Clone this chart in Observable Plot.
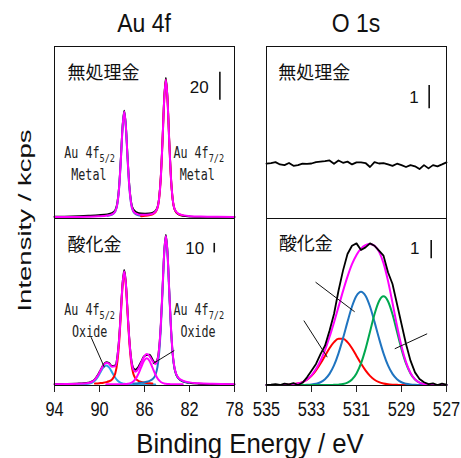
<!DOCTYPE html>
<html><head><meta charset="utf-8">
<script src="https://cdn.jsdelivr.net/npm/d3@7"></script>
<script src="https://cdn.jsdelivr.net/npm/@observablehq/plot@0.6"></script>
<style>
body{margin:0;background:#fff;}
#wrap{position:relative;width:461px;height:458px;overflow:hidden;font-family:"Liberation Sans",Arial,sans-serif;background:#fff;}
</style></head><body><div id="wrap"></div>
<script>
// ---------------- DATA ----------------
// Au 4f, untreated (kcps)
const au1E = [94, 92.5, 91, 90.1, 89.3, 88.9, 88.6, 88.4, 88.25, 88.1, 87.95, 87.8, 87.65, 87.5, 87.35, 87.2, 87.0, 86.7, 86.3, 85.95, 85.6, 85.2, 84.9, 84.7, 84.55, 84.4, 84.25, 84.1, 83.95, 83.8, 83.65, 83.5, 83.3, 83.0, 82.6, 81.9, 81, 79.5, 78];
const au1Raw = [0.3, 0.5, 1.0, 1.4, 2.0, 2.9, 5.0, 11.0, 22.5, 42.5, 65.0, 76.0, 64.5, 42.5, 23.0, 11.5, 5.6, 3.5, 2.6, 2.5, 2.6, 3.4, 6.0, 14.0, 29.0, 55.0, 85.0, 99.5, 84.0, 54.5, 28.5, 13.0, 5.0, 2.0, 0.9, 0.4, 0.2, 0.1, 0.1];
const au1Fit = [0.09, 0.14, 0.28, 0.53, 1.1, 1.9, 4.1, 10.2, 21.8, 41.5, 64.0, 75.2, 64.0, 41.6, 21.9, 10.3, 4.4, 2.3, 1.6, 1.6, 1.8, 2.7, 5.5, 13.4, 28.4, 54.1, 83.6, 98.2, 83.6, 54.0, 28.3, 13.2, 5.3, 2.45, 1.4, 0.65, 0.38, 0.17, 0.1];
const au1Metal52 = [null, null, null, null, 1.0, 1.8, 4.0, 10.0, 21.6, 41.3, 63.8, 75, 63.8, 41.3, 21.6, 10.0, 4.0, 1.8, 1.0, null, null, null, null, null, null, null, null, null, null, null, null, null, null, null, null, null, null, null, null];
const au1Metal72 = [null, null, null, null, null, null, null, null, null, null, null, null, null, null, null, null, null, null, 0.59, 0.88, 1.32, 2.35, 5.2, 13.1, 28.2, 53.9, 83.4, 98, 83.4, 53.9, 28.2, 13.1, 5.2, 2.35, 1.32, null, null, null, null];

// Au 4f, oxidized (kcps)
const au2E = [94, 93, 92, 91.4, 91.0, 90.65, 90.4, 90.15, 89.9, 89.65, 89.4, 89.15, 88.9, 88.6, 88.4, 88.25, 88.1, 87.95, 87.8, 87.65, 87.5, 87.35, 87.2, 87.0, 86.8, 86.55, 86.3, 86.05, 85.8, 85.55, 85.3, 85.05, 84.85, 84.7, 84.55, 84.4, 84.25, 84.1, 83.95, 83.8, 83.65, 83.5, 83.3, 83.0, 82.6, 82.0, 81.2, 80, 78];
const au2Raw = [0.5, 0.7, 1.0, 1.3, 1.9, 3.3, 5.8, 9.9, 15.4, 20.8, 23.4, 22.5, 19.6, 20.2, 31.0, 50.0, 78.0, 107.0, 120.5, 106.5, 76.5, 48.5, 29.0, 17.5, 15.5, 18.5, 24.0, 29.5, 31.0, 31.5, 26.5, 23.0, 26.5, 38.5, 63.0, 100.5, 139.5, 157.5, 138.5, 98.5, 60.0, 33.0, 15.0, 6.5, 3.2, 1.6, 0.8, 0.4, 0.2];
const au2Fit = [0.34, 0.46, 0.74, 1.02, 1.56, 2.98, 5.42, 9.45, 14.97, 20.2, 22.85, 21.82, 18.75, 19.18, 29.87, 48.65, 76.44, 105.59, 119.28, 105.36, 75.74, 47.42, 27.79, 15.92, 13.34, 16.58, 22.74, 29.1, 32.09, 29.95, 24.81, 21.51, 25.64, 38.06, 63.1, 99.78, 138.39, 156.26, 137.79, 98.4, 60.5, 33.7, 15.82, 7.23, 4.07, 2.25, 1.27, 0.69, 0.34];
const au2Metal52 = [null, null, null, null, null, null, 0.96, 1.16, 1.46, 1.86, 2.47, 3.4, 5.05, 11.5, 25.0, 45.2, 73.9, 103.6, 117.5, 103.6, 73.9, 45.2, 25.0, 11.5, 6.3, 3.9, 2.76, 2.06, 1.6, 1.27, 1.03, null, null, null, null, null, null, null, null, null, null, null, null, null, null, null, null, null, null];
const au2Metal72 = [null, null, null, null, null, null, null, null, null, null, null, null, null, null, null, null, null, null, null, null, null, null, null, 1.02, 1.16, 1.43, 1.75, 2.22, 2.88, 3.88, 5.58, 9.46, 18.2, 33.0, 59.7, 97.5, 136.7, 155, 136.7, 97.5, 59.7, 33.0, 15.2, 6.7, 3.64, 1.92, null, null, null];
const au2Oxide52 = [null, null, 0.18, 0.32, 0.7, 1.94, 4.2, 8.0, 13.2, 18.0, 20, 18.0, 13.2, 7.1, 4.2, 2.7, 1.7, 1.04, 0.7, 0.5, 0.38, 0.3, 0.24, 0.2, 0.18, 0.15, 0.13, 0.12, 0.11, 0.1, 0.1, 0.09, null, null, null, null, null, null, null, null, null, null, null, null, null, null, null, null, null];
const au2Oxide72 = [null, null, null, null, null, null, null, null, null, null, 0.14, 0.15, 0.18, 0.21, 0.25, 0.26, 0.3, 0.36, 0.44, 0.58, 0.72, 1.1, 1.65, 3.2, 5.7, 11.1, 18.1, 24.7, 27.5, 24.7, 18.1, 11.1, 6.6, 4.3, 2.7, 1.65, 1.1, 0.72, 0.58, 0.44, 0.36, 0.3, 0.25, 0.21, 0.17, null, null, null, null];

// O 1s (kcps)
const o1E = [535, 534.8, 534.6, 534.4, 534.2, 534, 533.8, 533.6, 533.4, 533.2, 533, 532.8, 532.6, 532.4, 532.2, 532, 531.8, 531.6, 531.4, 531.2, 531, 530.8, 530.6, 530.4, 530.2, 530, 529.8, 529.6, 529.4, 529.2, 529, 528.8, 528.6, 528.4, 528.2, 528, 527.8, 527.6, 527.4, 527.2, 527];
const o1Untreated = [2.35, 2.38, 2.42, 2.32, 2.29, 2.38, 2.26, 2.29, 2.35, 2.34, 2.36, 2.42, 2.44, 2.46, 2.49, 2.35, 2.49, 2.39, 2.44, 2.32, 2.41, 2.41, 2.38, 2.21, 2.42, 2.36, 2.38, 2.32, 2.26, 2.35, 2.29, 2.21, 2.29, 2.24, 2.12, 2.29, 2.15, 2.29, 2.24, 2.32, 2.41];
const o1Raw = [0.0, 0.02, 0.05, 0.0, 0.08, 0.03, 0.1, 0.0, 0.12, 0.42, 0.78, 1.15, 1.69, 2.15, 2.97, 3.88, 5.15, 6.25, 7.16, 7.61, 7.74, 7.38, 7.52, 7.74, 7.61, 7.34, 7.07, 6.16, 5.52, 4.43, 3.33, 2.24, 1.33, 0.69, 0.33, 0.15, 0.05, 0.09, 0.0, 0.08, 0.02];
const o1Fit = [0, 0, 0, 0, 0.01, 0.02, 0.04, 0.08, 0.16, 0.30, 0.53, 0.87, 1.33, 1.91, 2.62, 3.42, 4.27, 5.13, 5.92, 6.60, 7.11, 7.45, 7.64, 7.71, 7.61, 7.29, 6.66, 5.69, 4.49, 3.24, 2.12, 1.25, 0.66, 0.31, 0.13, 0.05, 0.02, 0.01, 0, 0, 0];
const o1Red = [0, 0, 0, 0, 0.01, 0.02, 0.04, 0.08, 0.16, 0.29, 0.50, 0.80, 1.17, 1.59, 2.01, 2.34, 2.53, 2.53, 2.34, 2.01, 1.59, 1.17, 0.80, 0.50, 0.29, 0.16, 0.08, 0.04, 0.02, 0.01, 0, 0, 0, 0, 0, 0, 0, 0, 0, 0, 0];
const o1Blue = [0, 0, 0, 0, 0, 0, 0, 0, 0, 0.01, 0.03, 0.07, 0.15, 0.32, 0.61, 1.07, 1.73, 2.55, 3.45, 4.29, 4.88, 5.10, 4.88, 4.29, 3.45, 2.55, 1.73, 1.07, 0.61, 0.32, 0.15, 0.07, 0.03, 0.01, 0, 0, 0, 0, 0, 0, 0];
const o1Green = [0, 0, 0, 0, 0, 0, 0, 0, 0, 0, 0, 0, 0, 0, 0, 0.01, 0.02, 0.05, 0.13, 0.30, 0.63, 1.18, 1.96, 2.91, 3.87, 4.58, 4.85, 4.58, 3.87, 2.91, 1.96, 1.18, 0.63, 0.30, 0.13, 0.05, 0.02, 0.01, 0, 0, 0];

// tick labels
const auTicks = [94, 90, 86, 82, 78];
const oTicks = [535, 533, 531, 529, 527];

// ---------------- STYLE / LAYOUT ----------------
const C = {magenta: "#ff00ff", red: "#ff0000", blue: "#1f74c0", lblue: "#2aa4e4", green: "#00a84f", black: "#000"};
const CJK = "'Noto Sans CJK JP', sans-serif";
const SANS = "'Liberation Sans', Arial, sans-serif";
const MONO = "'DejaVu Sans Mono', monospace";
const TOP = 46, MID = 218, BOT = 385;
const LEFTP = [54, 234], RIGHTP = [266, 446];

const wrap = d3.select("#wrap");
const rows = (xs, ys) => xs.map((e, i) => ({e, v: ys[i]}));

function makePanel(o) {
  const padX = o.axis ? 22 : 2, padTop = 2, padBottom = o.axis ? 48 : 2;
  const width = o.cols[1] - o.cols[0] + 2 * padX;
  const height = o.rows[1] - o.rows[0] + padTop + padBottom;
  const marks = [];
  for (const s of o.series) {
    marks.push(Plot.line(rows(o.xs, s.values), {x: "e", y: "v", stroke: s.color, strokeWidth: s.width ?? 1.8, curve: s.curve ?? "monotone-x"}));
  }
  marks.push(Plot.frame({stroke: "#111", strokeWidth: 1}));
  marks.push(Plot.ruleX([o.bar], {x: "x", y1: "y1", y2: "y2", stroke: "#111", strokeWidth: 1.6}));
  marks.push(Plot.text([o.name], {x: "x", y: "y", text: "text", textAnchor: "start", fontFamily: CJK, fontSize: 18, fill: "#111"}));
  marks.push(Plot.text([o.scaleLabel], {x: "x", y: "y", text: "text", textAnchor: "end", fontFamily: SANS, fontSize: 17, fill: "#111"}));
  if (o.links) marks.push(Plot.link(o.links, {x1: "x1", y1: "y1", x2: "x2", y2: "y2", stroke: "#111", strokeWidth: 1}));
  const svg = Plot.plot({
    width, height,
    marginLeft: padX, marginRight: padX, marginTop: padTop, marginBottom: padBottom,
    style: {background: "transparent", overflow: "visible", fontFamily: SANS, fontSize: "21px", color: "#111"},
    x: {domain: o.xDomain, ticks: o.ticks ?? [], tickSize: 7, tickPadding: 9, label: null, axis: o.axis ? "bottom" : null},
    y: {domain: o.yDomain, axis: null},
    marks
  });
  const s = d3.select(svg);
  s.style("position", "absolute").style("left", (o.cols[0] - padX) + "px").style("top", (o.rows[0] - padTop) + "px");
  // condensed tick labels
  s.selectAll("g[aria-label^='x-axis'] text").each(function() {
    const t = d3.select(this);
    t.attr("font-size", 21).style("font-size", "21px").attr("fill", "#111");
    t.attr("transform", ((t.attr("transform") || "") + " scale(0.78,1)").trim());
  });
  s.selectAll("g[aria-label^='x-axis'] line, g[aria-label^='x-axis'] path").attr("stroke", "#222");
  // peak labels with subscripts
  if (o.peakLabels) {
    const sx = svg.scale("x"), sy = svg.scale("y");
    for (const p of o.peakLabels) {
      const t = s.append("text")
        .attr("transform", `translate(${sx.apply(p.x)},${sy.apply(p.y)}) scale(0.78,1)`)
        .attr("dy", "0.36em").attr("text-anchor", "middle")
        .attr("font-family", MONO).attr("font-size", 15).attr("fill", "#222");
      t.append("tspan").text(p.main);
      if (p.sub) t.append("tspan").attr("font-size", 11).attr("dy", 4).text(p.sub);
    }
  }
  wrap.node().appendChild(svg);
  return svg;
}

// Top-left: Au 4f untreated
makePanel({
  cols: LEFTP, rows: [TOP, MID], xs: au1E, xDomain: [94, 78], yDomain: [-1, 121.9],
  series: [
    {values: au1Raw, color: C.black, width: 1.8},
    {values: au1Metal52, color: C.blue, width: 2},
    {values: au1Metal72, color: C.red, width: 2},
    {values: au1Fit, color: C.magenta, width: 2}
  ],
  name: {x: 92.85, y: 102.6, text: "無処理金"},
  scaleLabel: {x: 80.3, y: 92.9, text: "20"},
  bar: {x: 79.3, y1: 83.5, y2: 103.5},
  peakLabels: [
    {x: 90.83, y: 45.5, main: "Au 4f", sub: "5/2"}, {x: 90.9, y: 29.8, main: "Metal"},
    {x: 81.13, y: 45.5, main: "Au 4f", sub: "7/2"}, {x: 81.27, y: 29.8, main: "Metal"}
  ]
});

// Bottom-left: Au 4f oxidized
makePanel({
  cols: LEFTP, rows: [MID, BOT], xs: au2E, xDomain: [94, 78], yDomain: [-1.05, 174.7], axis: true, ticks: auTicks,
  series: [
    {values: au2Raw, color: C.black, width: 1.8},
    {values: au2Oxide52, color: C.lblue, width: 2},
    {values: au2Metal52, color: C.red, width: 2},
    {values: au2Metal72, color: C.blue, width: 2},
    {values: au2Oxide72, color: C.magenta, width: 2},
    {values: au2Fit, color: C.magenta, width: 2}
  ],
  name: {x: 92.85, y: 147, text: "酸化金"},
  scaleLabel: {x: 80.7, y: 142.8, text: "10"},
  bar: {x: 79.8, y1: 138.5, y2: 148.5},
  links: [{x1: 90.75, y1: 49.8, x2: 89.57, y2: 18.2}, {x1: 83.35, y1: 35.8, x2: 85.27, y2: 21.8}],
  peakLabels: [
    {x: 90.83, y: 77.9, main: "Au 4f", sub: "5/2"}, {x: 90.83, y: 55, main: "Oxide"},
    {x: 81.13, y: 77.9, main: "Au 4f", sub: "7/2"}, {x: 81.2, y: 55, main: "Oxide"}
  ]
});

// Top-right: O 1s untreated
makePanel({
  cols: RIGHTP, rows: [TOP, MID], xs: o1E, xDomain: [535, 527], yDomain: [0, 7.38],
  series: [{values: o1Untreated, color: C.black, width: 1.8, curve: "linear"}],
  name: {x: 534.48, y: 6.25, text: "無処理金"},
  scaleLabel: {x: 528.23, y: 5.18, text: "1"},
  bar: {x: 527.77, y1: 4.71, y2: 5.71}
});

// Bottom-right: O 1s oxidized
makePanel({
  cols: RIGHTP, rows: [MID, BOT], xs: o1E, xDomain: [535, 527], yDomain: [-0.027, 9.099], axis: true, ticks: oTicks,
  series: [
    {values: o1Red, color: C.red, width: 2},
    {values: o1Blue, color: C.blue, width: 2},
    {values: o1Green, color: C.green, width: 2},
    {values: o1Fit, color: C.magenta, width: 2},
    {values: o1Raw, color: C.black, width: 1.8, curve: "linear"}
  ],
  name: {x: 534.45, y: 7.72, text: "酸化金"},
  scaleLabel: {x: 528.2, y: 7.44, text: "1"},
  bar: {x: 527.68, y1: 6.9, y2: 7.9},
  links: [{x1: 532.82, y1: 5.62, x2: 531.08, y2: 4.0}, {x1: 533.34, y1: 3.52, x2: 532.3, y2: 1.52}, {x1: 527.86, y1: 2.8, x2: 529.3, y2: 1.98}]
});

// Titles and axis labels
const over = wrap.append("svg").attr("width", 461).attr("height", 458)
  .style("position", "absolute").style("left", "0px").style("top", "0px").style("overflow", "visible");
const txt = (tr, size, s) => over.append("text").attr("transform", tr).attr("text-anchor", "middle")
  .attr("font-family", SANS).attr("font-size", size).attr("fill", "#111").text(s);
txt(`translate(${(LEFTP[0] + LEFTP[1]) / 2},32) scale(0.92,1)`, 25, "Au 4f");
txt(`translate(${(RIGHTP[0] + RIGHTP[1]) / 2},32) scale(0.92,1)`, 25, "O 1s");
txt(`translate(${(LEFTP[0] + RIGHTP[1]) / 2},453) scale(0.92,1)`, 28, "Binding Energy / eV");
txt(`translate(31,${(TOP + BOT) / 2 + 5}) rotate(-90) scale(1.45,1)`, 19, "Intensity / kcps");
</script></body></html>
